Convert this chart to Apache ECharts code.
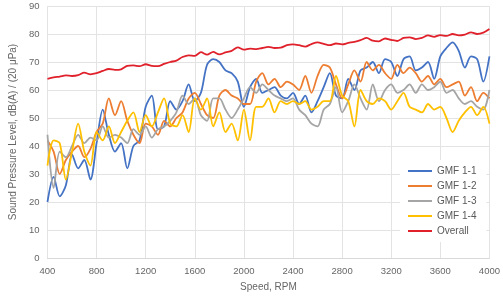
<!DOCTYPE html>
<html>
<head>
<meta charset="utf-8">
<script src="https://cdn.jsdelivr.net/npm/echarts@6/dist/echarts.min.js"></script>
<style>
  html, body { margin: 0; padding: 0; background: #fff; }
  #chart { width: 503px; height: 297px; }
</style>
</head>
<body>
<div id="chart"></div>
<script>
// speed steps, 400..4000 RPM every 50
var speed = [];
for (var s = 400; s <= 4000; s += 50) speed.push(s);

var gmf11 = [20, 29, 22, 26, 37, 32, 35, 28, 41, 53, 44, 38, 41, 32, 40, 42, 54, 58, 46, 47,
  56, 53, 56, 62, 56, 59, 69, 71, 70, 67, 66, 63, 54, 61, 64, 59, 60, 61, 58, 57,
  59, 55, 58, 52, 56, 61, 66, 58, 57, 64, 60, 67, 68, 70, 66, 71, 70, 65, 71, 72,
  67, 68, 70, 64, 72, 75, 77, 74, 68, 72, 71, 63, 72];
var gmf12 = [42, 38, 30, 35, 38, 40, 36, 39, 45, 48, 57, 51, 56, 49, 44, 41, 48, 47, 44, 49,
  47, 50, 52, 57, 59, 55, 51, 50, 58, 60, 58, 57, 55, 55, 63, 66, 62, 64, 61, 63,
  62, 60, 65, 59, 65, 69, 68, 62, 57, 62, 67, 63, 70, 67, 69, 66, 64, 69, 66, 68,
  66, 63, 65, 62, 64, 61, 62, 63, 58, 61, 56, 59, 57];
var gmf13 = [44, 25, 38, 36, 40, 44, 41, 43, 42, 47, 43, 44, 43, 41, 46, 44, 47, 43, 46, 47,
  49, 52, 58, 55, 57, 51, 49, 57, 57, 53, 50, 53, 57, 61, 59, 62, 60, 58, 57, 56,
  57, 53, 51, 48, 47, 53, 55, 61, 52, 56, 62, 57, 53, 62, 56, 60, 62, 59, 60, 62,
  59, 62, 60, 61, 63, 59, 60, 57, 55, 56, 54, 53, 60];
var gmf14 = [33, 42, 41, 28, 38, 48, 38, 33, 45, 42, 47, 41, 45, 49, 52, 45, 51, 47, 52, 57,
  48, 47, 51, 45, 57, 53, 57, 47, 52, 45, 48, 42, 53, 42, 54, 54, 57, 52, 56, 55,
  56, 55, 56, 53, 54, 56, 56, 65, 58, 56, 47, 60, 56, 55, 57, 56, 53, 56, 59, 54,
  53, 52, 55, 53, 54, 50, 45, 49, 52, 54, 51, 54, 48];
var overall = [64, 64.5, 64.8, 65.2, 65, 65.3, 66.2, 65.6, 66, 66.8, 67.5, 67.2, 67.4, 68.6, 68.8, 68.5, 69.2, 68.6, 68.5, 69.3,
  70, 70.5, 71.8, 72.4, 72.2, 73.5, 72.6, 73.6, 72.7, 73.4, 74, 75.2, 74.4, 74.8, 74.6, 75, 75.4, 75, 75.1, 76,
  76.3, 76, 75.5, 76.4, 77, 76.5, 76, 76.6, 76.3, 76.8, 77.2, 77.8, 78.6, 77.6, 77.4, 78.4, 77.9, 77.5, 78.6, 78.8,
  78.2, 78.6, 79.5, 79, 79.6, 79.3, 80, 79.5, 79.8, 80.6, 80, 80.5, 81.8];

var seriesNames = ['GMF 1-1', 'GMF 1-2', 'GMF 1-3', 'GMF 1-4', 'Overall'];
var seriesColors = ['#4472C4', '#ED7D31', '#A5A5A5', '#FFC000', '#E0202A'];
var seriesValues = [gmf11, gmf12, gmf13, gmf14, overall];

function pairs(vals) {
  return speed.map(function (x, i) { return [x, vals[i]]; });
}

var chart = echarts.init(document.getElementById('chart'));
var fontFamily = '"Liberation Sans", Arial, sans-serif';

var option = {
  animation: false,
  textStyle: { fontFamily: fontFamily },
  grid: { left: 37, right: 12, top: 6, bottom: 39 },
  legend: {
    orient: 'vertical',
    left: 400,
    top: 160,
    data: seriesNames,
    icon: 'rect',
    itemWidth: 24,
    itemHeight: 2,
    itemGap: 5,
    padding: [6, 10, 6, 8],
    backgroundColor: '#fff',
    textStyle: { color: '#595959', fontSize: 10, fontFamily: fontFamily }
  },
  xAxis: {
    type: 'value',
    min: 400,
    max: 4000,
    interval: 400,
    name: 'Speed, RPM',
    nameLocation: 'middle',
    nameGap: 24,
    nameTextStyle: { color: '#666', fontSize: 10 },
    axisLine: { show: true, lineStyle: { color: '#d9d9d9' } },
    axisTick: { show: false },
    axisLabel: { color: '#666', fontSize: 9.5, margin: 8, formatter: function (v) { return String(v); } },
    splitLine: { show: true, lineStyle: { color: '#e3e3e3' } }
  },
  yAxis: {
    type: 'value',
    min: 0,
    max: 90,
    interval: 10,
    name: 'Sound Pressure Level, dB(A) / (20 μPa)',
    nameLocation: 'middle',
    nameGap: 27,
    nameTextStyle: { color: '#666', fontSize: 10 },
    axisLine: { show: false },
    axisTick: { show: false },
    axisLabel: { color: '#666', fontSize: 9.5, margin: 8 },
    splitLine: { show: true, lineStyle: { color: '#e3e3e3' } }
  },
  series: seriesNames.map(function (name, i) {
    return {
      name: name,
      type: 'line',
      data: pairs(seriesValues[i]),
      showSymbol: false,
      smooth: 0.3,
      color: seriesColors[i],
      lineStyle: { width: 1.8, color: seriesColors[i] },
      z: i === 4 ? 5 : 2
    };
  })
};

chart.setOption(option);
</script>
</body>
</html>
